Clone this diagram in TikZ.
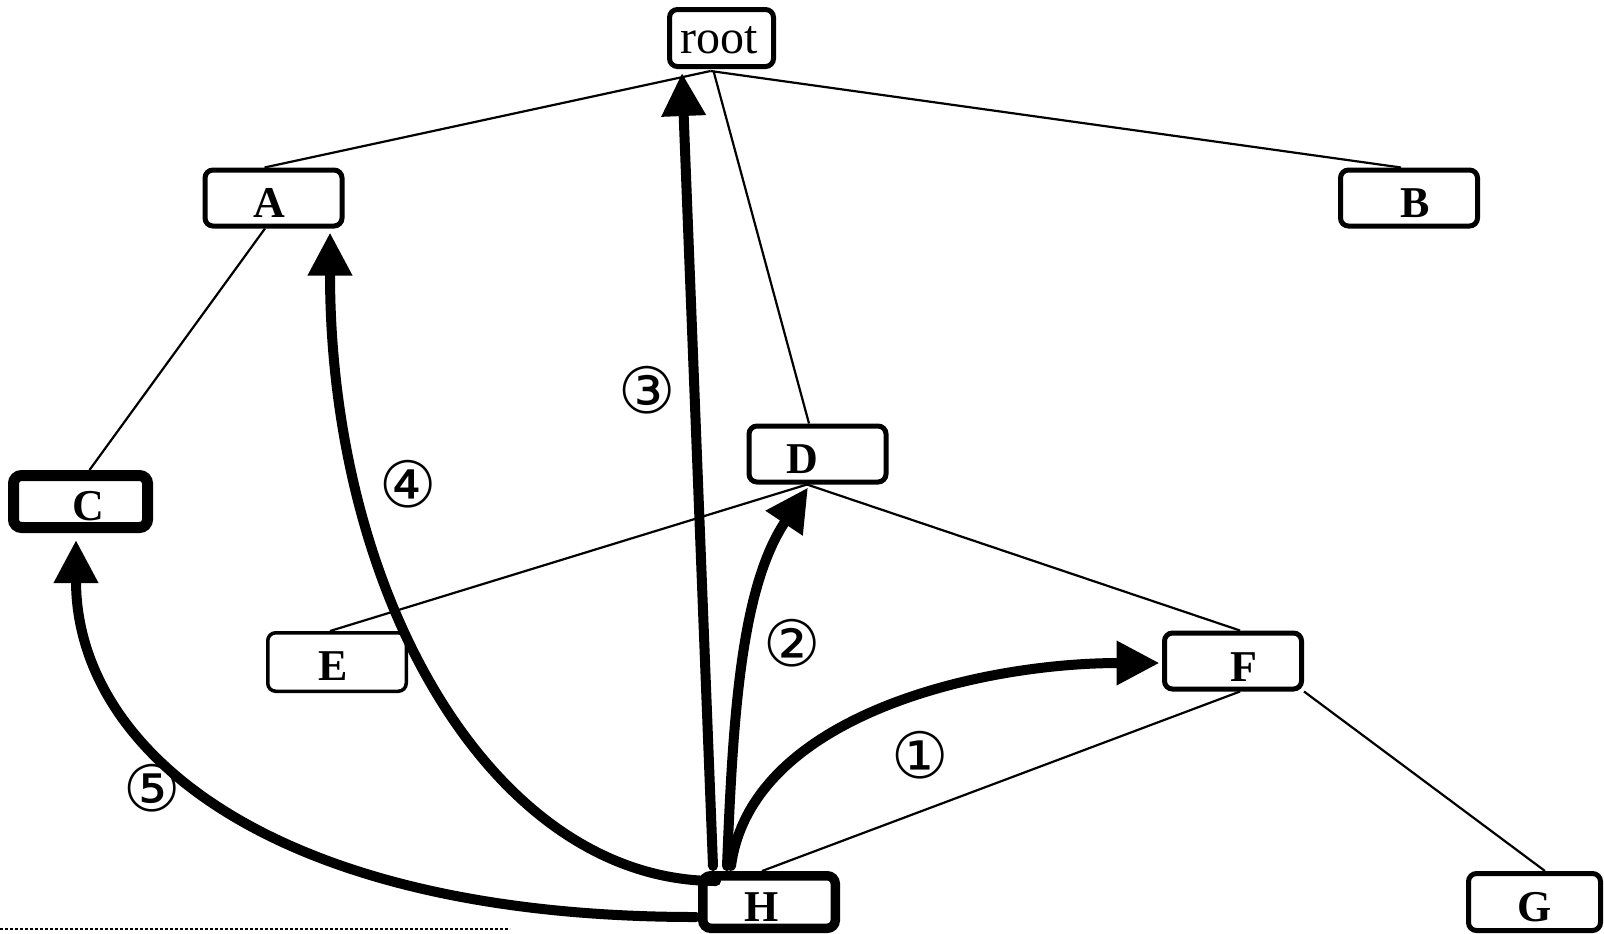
\documentclass[tikz,border=0pt]{standalone}
\usepackage{fontspec}
\setmainfont{Liberation Serif}
\newfontfamily\circfont{DejaVu Sans}
\usetikzlibrary{arrows.meta,calc}
\begin{document}
\begin{tikzpicture}[x=0.5pt,y=-0.5pt,
  box/.style={draw,rounded corners=4pt,line width=2.5pt,minimum width=68.5pt,minimum height=28pt,inner sep=0pt},
  lbl/.style={font=\bfseries\fontsize{22}{22}\selectfont,inner sep=0pt},
  edge/.style={line width=1.1pt},
  big/.style={line width=5pt,line cap=round,-{Triangle[length=21.5pt,width=21pt]}},
  num/.style={font=\circfont\fontsize{32}{32}\selectfont,inner sep=0pt}]
\useasboundingbox (0,0) rectangle (1604,933);

% boxes
\node[box,minimum width=52pt,minimum height=28.5pt,
  label={[font=\fontsize{24}{24}\selectfont,inner sep=0pt,xshift=-1.25pt,yshift=-1pt]center:root}] (root) at (721.5,38) {};
\node[box,label={[lbl,xshift=-2pt,yshift=-2.5pt]center:A}] (A) at (273.5,198) {};
\node[box,label={[lbl,xshift=3pt,yshift=-2.5pt]center:B}] (B) at (1409,198) {};
\node[box,line width=5.5pt,minimum width=67pt,minimum height=26pt,
  label={[lbl,xshift=3.75pt,yshift=-2.5pt]center:C}] (C) at (80.5,501.5) {};
\node[box,label={[lbl,xshift=-7.75pt,yshift=-2.5pt]center:D}] (D) at (817.5,454) {};
\node[box,line width=1.75pt,minimum width=69.25pt,minimum height=29.25pt,
  label={[lbl,xshift=-2pt,yshift=-2pt]center:E}] (E) at (337,662) {};
\node[box,label={[lbl,xshift=5.5pt,yshift=-3pt]center:F}] (F) at (1233,661) {};
\node[box,minimum width=66pt,minimum height=28.5pt,
  label={[lbl,yshift=-2.5pt]center:G}] (G) at (1534.5,902) {};
\node[box,line width=4.75pt,minimum width=66.25pt,minimum height=26.25pt,
  label={[lbl,xshift=-3.5pt,yshift=-2.5pt]center:H}] (H) at (769,902) {};

% thin tree edges
\draw[edge] ($(root.south)+(-11,2)$) -- ($(A.north)+(-9,0)$);
\draw[edge] ($(root.south)+(-11,2)$) -- ($(B.north)+(-8,0)$);
\draw[edge] ($(root.south)+(-8,2)$) -- ($(D.north)+(-8.5,0)$);
\draw[edge] ($(A.south)+(-8.5,0)$) -- ($(C.north)+(9,0)$);
\draw[edge] ($(D.south)+(-10.5,0)$) -- ($(E.north)+(-7,0)$);
\draw[edge] ($(D.south)+(-10.5,0)$) -- ($(F.north)+(7,0)$);
\draw[edge] ($(F.south)+(7,0)$) -- ($(H.north)+(-7,0)$);
\draw[edge] (F.south east) -- ($(G.north)+(10.5,0)$);

% thick arrows
\draw[big] ($(H.north)+(-38,-5)$) .. controls +(20,-150) and +(-180,0) .. ($(F.west)+(-2.5,2)$);
\draw[big] ($(H.north)+(-42,-5)$) .. controls +(6,-151) and +(-67,100) .. ($(D.south)+(-9.5,3)$);
\draw[big] ($(H.north)+(-56,-5)$) -- ($(root.south)+(-39.5,4)$);
\draw[big] ($(H.north)+(-53,10)$) .. controls +(-221,0) and +(0,367) .. ($(A.south)+(56.5,4)$);
\draw[big] ($(H.west)+(-2,15)$) .. controls +(-425,0) and +(0,210) .. ($(C.south)+(-4.5,7)$);

% step numbers
\node[num] (n1) at (920,755) {①};
\node[num] (n2) at (792,643) {②};
\node[num] (n3) at (647,390) {③};
\node[num] (n4) at (408,484) {④};
\node[num] (n5) at (152,788) {⑤};

% dotted line at the bottom
\coordinate (d1) at (0,929);
\coordinate (d2) at (510,929);
\draw[line width=1.3pt,dash pattern=on 1.3pt off 1.2pt] (d1) -- (d2);
\end{tikzpicture}
\end{document}
